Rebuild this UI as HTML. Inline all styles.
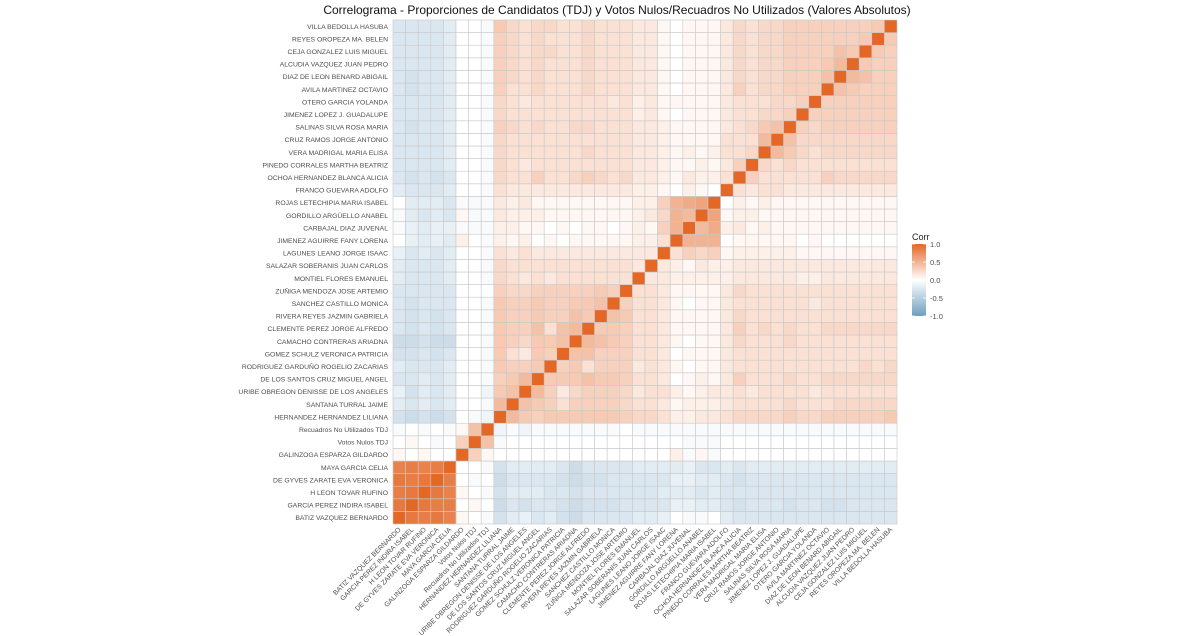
<!DOCTYPE html>
<html><head><meta charset="utf-8"><style>
body{margin:0;background:#fff;}
svg{display:block;font-family:"Liberation Sans","DejaVu Sans",sans-serif;}
</style></head><body>
<svg id="chart" width="1200" height="636" viewBox="0 0 1200 636">
<text x="617" y="14" text-anchor="middle" font-size="12" fill="#111">Correlograma - Proporciones de Candidatos (TDJ) y Votos Nulos/Recuadros No Utilizados (Valores Absolutos)</text>
<g id="cells"></g>
<g id="ylab"></g>
<g id="xlab"></g>
<g id="legend"></g>
</svg>
<script>
const categories = ["BATIZ VAZQUEZ BERNARDO","GARCIA PEREZ INDIRA ISABEL","H LEON TOVAR RUFINO","DE GYVES ZARATE EVA VERONICA","MAYA GARCIA CELIA","GALINZOGA ESPARZA GILDARDO","Votos Nulos TDJ","Recuadros No Utilizados TDJ","HERNANDEZ HERNANDEZ LILIANA","SANTANA TURRAL JAIME","URIBE OBREGON DENISSE DE LOS ANGELES","DE LOS SANTOS CRUZ MIGUEL ANGEL","RODRIGUEZ GARDUÑO ROGELIO ZACARIAS","GOMEZ SCHULZ VERONICA PATRICIA","CAMACHO CONTRERAS ARIADNA","CLEMENTE PEREZ JORGE ALFREDO","RIVERA REYES JAZMIN GABRIELA","SANCHEZ CASTILLO MONICA","ZUÑIGA MENDOZA JOSE ARTEMIO","MONTIEL FLORES EMANUEL","SALAZAR SOBERANIS JUAN CARLOS","LAGUNES LEANO JORGE ISAAC","JIMENEZ AGUIRRE FANY LORENA","CARBAJAL DIAZ JUVENAL","GORDILLO ARGÜELLO ANABEL","ROJAS LETECHIPIA MARIA ISABEL","FRANCO GUEVARA ADOLFO","OCHOA HERNANDEZ BLANCA ALICIA","PINEDO CORRALES MARTHA BEATRIZ","VERA MADRIGAL MARIA ELISA","CRUZ RAMOS JORGE ANTONIO","SALINAS SILVA ROSA MARIA","JIMENEZ LOPEZ J. GUADALUPE","OTERO GARCIA YOLANDA","AVILA MARTINEZ OCTAVIO","DIAZ DE LEON BENARD ABIGAIL","ALCUDIA VAZQUEZ JUAN PEDRO","CEJA GONZALEZ LUIS MIGUEL","REYES OROPEZA MA. BELEN","VILLA BEDOLLA HASUBA"];
const lowerTri = [
[1],
[.88,1],
[.85,.88,1],
[.88,.85,.88,1],
[.82,.85,.82,.85,1],
[.05,0,.05,0,0,1],
[0,.05,0,-.05,0,.3,1],
[-.05,0,-.05,0,-.05,.05,.4,1],
[-.3,-.35,-.3,-.35,-.3,0,-.05,-.1,1],
[-.2,-.25,-.2,-.25,-.2,0,0,-.05,.45,1],
[-.15,-.3,-.2,-.25,-.2,0,0,-.1,.35,.4,1],
[-.25,-.25,-.2,-.25,-.2,0,0,-.05,.3,.35,.45,1],
[-.2,-.25,-.25,-.25,-.2,0,0,-.05,.35,.3,.3,.35,1],
[-.3,-.3,-.25,-.3,-.25,0,0,-.05,.35,.2,.15,.35,.3,1],
[-.35,-.35,-.3,-.35,-.35,0,0,-.05,.35,.3,.25,.35,.35,.4,1],
[-.25,-.3,-.25,-.3,-.25,0,0,-.05,.35,.3,.3,.4,.2,.4,.45,1],
[-.25,-.3,-.25,-.3,-.25,0,0,-.05,.35,.3,.3,.35,.3,.3,.4,.35,1],
[-.25,-.3,-.25,-.25,-.25,0,0,-.05,.35,.3,.3,.35,.3,.3,.35,.35,.4,1],
[-.25,-.25,-.25,-.25,-.25,0,0,0,.3,.25,.25,.3,.3,.3,.3,.3,.35,.3,1],
[-.2,-.25,-.25,-.25,-.2,0,0,-.05,.25,.2,.15,.2,.15,.2,.2,.2,.2,.2,.2,1],
[-.2,-.25,-.25,-.25,-.2,0,0,-.05,.25,.2,.2,.2,.2,.2,.2,.2,.2,.2,.2,.15,1],
[-.15,-.25,-.2,-.25,-.2,0,0,-.05,.2,.15,.2,.15,.15,.15,.15,.15,.15,.15,.15,.15,.15,1],
[0,-.15,-.2,-.15,-.2,.1,0,-.05,.1,.05,.1,0,.05,0,.05,.05,.05,.05,.05,.1,.1,.2,1],
[-.05,-.15,-.2,-.15,-.15,-.05,-.05,-.05,.1,.1,.05,.05,0,.05,0,.05,.05,0,.05,.1,.05,.3,.5,1],
[-.05,-.2,-.25,-.2,-.25,.05,-.05,-.05,.15,.1,.1,.1,.05,.05,.05,.05,.05,.05,.05,.1,.15,.25,.5,.45,1],
[0,-.2,-.2,-.2,-.25,-.05,-.05,-.05,.15,.1,.15,.05,.05,.05,.05,.05,.05,.05,.05,.1,.1,.3,.5,.55,.6,1],
[-.2,-.25,-.25,-.25,-.2,0,0,-.05,.2,.15,.15,.15,.15,.15,.15,.15,.15,.15,.15,.1,.1,.05,0,.1,.05,0,1],
[-.25,-.3,-.25,-.3,-.25,0,0,-.05,.25,.2,.2,.3,.2,.2,.25,.3,.25,.2,.25,.15,.15,.1,.05,.15,.1,.1,.2,1],
[-.25,-.25,-.25,-.25,-.2,0,0,-.05,.25,.2,.15,.2,.2,.2,.2,.2,.2,.2,.2,.15,.15,.1,.05,.05,.1,.05,.15,.3,1],
[-.25,-.25,-.25,-.25,-.2,0,0,-.05,.25,.2,.2,.2,.2,.2,.2,.25,.2,.2,.2,.15,.15,.1,.05,.1,.05,.1,.2,.2,.25,1],
[-.25,-.25,-.25,-.25,-.2,0,0,-.05,.25,.2,.2,.2,.2,.2,.2,.2,.2,.2,.2,.15,.15,.1,.05,.05,.05,.05,.2,.2,.2,.45,1],
[-.25,-.3,-.25,-.25,-.2,0,0,-.05,.3,.25,.2,.25,.2,.2,.25,.25,.2,.2,.2,.15,.15,.1,.05,.05,.05,.05,.15,.2,.25,.35,.4,1],
[-.25,-.25,-.25,-.25,-.2,0,0,-.05,.25,.2,.2,.2,.2,.2,.2,.2,.2,.2,.2,.1,.15,.05,0,.05,.05,.05,.15,.2,.2,.25,.25,.3,1],
[-.25,-.25,-.25,-.25,-.2,0,0,-.05,.25,.2,.15,.2,.2,.2,.2,.2,.2,.15,.2,.1,.15,.05,.05,.05,.05,.05,.15,.2,.2,.2,.25,.25,.3,1],
[-.25,-.3,-.25,-.25,-.2,0,0,-.05,.3,.2,.2,.25,.2,.2,.2,.25,.2,.2,.2,.15,.15,.05,0,.05,.05,.05,.15,.3,.2,.25,.25,.3,.3,.3,1],
[-.25,-.3,-.25,-.25,-.2,0,0,-.05,.3,.25,.2,.25,.2,.2,.2,.25,.2,.2,.2,.15,.15,.05,0,.05,.05,.05,.15,.25,.2,.25,.25,.3,.3,.3,.4,1],
[-.25,-.25,-.25,-.25,-.2,0,0,-.05,.3,.25,.2,.25,.2,.2,.2,.25,.2,.2,.2,.15,.15,.05,0,.05,.05,.05,.15,.25,.2,.25,.25,.3,.3,.3,.35,.45,1],
[-.25,-.25,-.25,-.25,-.2,0,0,-.05,.3,.25,.2,.25,.25,.2,.2,.25,.2,.2,.2,.15,.15,.05,0,.05,.05,.05,.15,.25,.2,.25,.25,.3,.3,.3,.3,.4,.35,1],
[-.25,-.25,-.25,-.25,-.2,0,0,-.05,.3,.25,.2,.25,.2,.2,.2,.25,.2,.2,.2,.15,.15,.05,0,.05,.05,.05,.15,.25,.2,.25,.25,.3,.3,.3,.3,.3,.3,.35,1],
[-.25,-.25,-.25,-.25,-.2,0,0,-.05,.35,.25,.2,.25,.25,.2,.2,.25,.2,.2,.2,.15,.15,.05,0,.05,.05,.05,.15,.25,.2,.25,.25,.3,.3,.3,.3,.3,.3,.3,.35,1]
];
const legendTicks = [1.0, 0.5, 0.0, -0.5, -1.0];
const legendTickLabels = ["1.0","0.5","0.0","-0.5","-1.0"];

const NS="http://www.w3.org/2000/svg";
const X0=393, Y1=524, W=504, n=categories.length, cs=W/n;
function xPos(i){return X0+i*cs;}
function yPos(i){return Y1-(i+1)*cs;}
function corr(i,j){const a=Math.max(i,j),b=Math.min(i,j);const r=lowerTri[a];return (r&&r[b]!==undefined)?r[b]:0;}
function lerp(a,b,t){return Math.round(a+(b-a)*t);}
function color(v){
  const lo=[109,158,193],mid=[255,255,255],hi=[228,103,38];
  const c=v>=0?hi:lo,t=Math.min(1,Math.abs(v));
  return `rgb(${lerp(mid[0],c[0],t)},${lerp(mid[1],c[1],t)},${lerp(mid[2],c[2],t)})`;
}
function mk(tag,attrs,parent){const e=document.createElementNS(NS,tag);for(const k in attrs)e.setAttribute(k,attrs[k]);parent.appendChild(e);return e;}
const cells=document.getElementById('cells');
for(let r=0;r<n;r++){for(let c=0;c<n;c++){
  const rect=mk('rect',{x:xPos(c),y:yPos(r),width:cs,height:cs,fill:color(corr(r,c)),stroke:'#c8c8c8','stroke-width':0.6},cells);
  
  
}}
const ylab=document.getElementById('ylab'), xlab=document.getElementById('xlab');
for(let i=0;i<n;i++){
  const t=mk('text',{x:388,y:yPos(i)+cs/2+2.5,'text-anchor':'end','font-size':6.8,fill:'#4d4d4d'},ylab);
  t.textContent=categories[i];
  
  
  const cx=xPos(i)+cs/2+2, cy=530;
  const u=mk('text',{x:cx,y:cy,'text-anchor':'end','font-size':6.8,fill:'#4d4d4d',transform:`rotate(-45 ${cx} ${cy})`},xlab);
  u.textContent=categories[i];
  
  
}
const lg=document.getElementById('legend');
const lt=mk('text',{x:912,y:240,'font-size':9,fill:'#222'},lg);lt.textContent='Corr';


const defs=mk('defs',{},lg);
const grad=mk('linearGradient',{id:'g',x1:0,y1:0,x2:0,y2:1},defs);
mk('stop',{offset:'0%','stop-color':color(1)},grad);
mk('stop',{offset:'50%','stop-color':color(0)},grad);
mk('stop',{offset:'100%','stop-color':color(-1)},grad);
const LT=244,LB=316;
const bar=mk('rect',{x:912,y:LT,width:14,height:LB-LT,fill:'url(#g)'},lg);


function ly(v){return LT+(1-v)/2*(LB-LT);}
legendTicks.forEach((v,k)=>{
  mk('line',{x1:912,x2:915,y1:ly(v),y2:ly(v),stroke:'#fff','stroke-width':0.8},lg);
  mk('line',{x1:923,x2:926,y1:ly(v),y2:ly(v),stroke:'#fff','stroke-width':0.8},lg);
  const t=mk('text',{x:930,y:ly(v)+3,'font-size':7.5,fill:'#4d4d4d'},lg);
  t.textContent=legendTickLabels[k];
  
  
});
</script>
</body></html>
